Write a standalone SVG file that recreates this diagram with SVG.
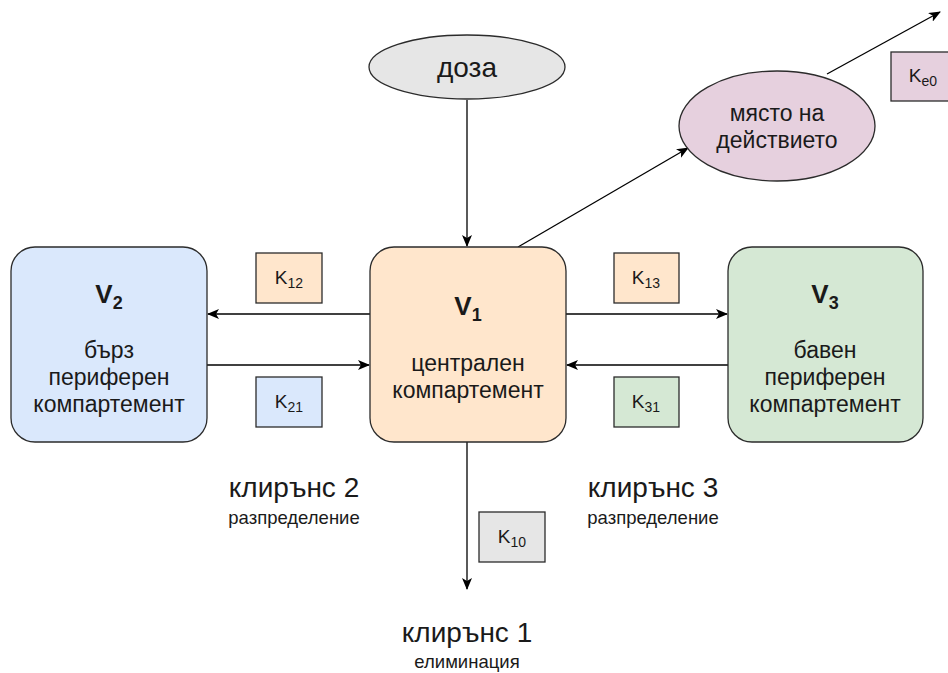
<svg xmlns="http://www.w3.org/2000/svg" width="948" height="673" viewBox="0 0 948 673">
<style>
text{font-family:"Liberation Sans",Arial,sans-serif;fill:#1a1a1a;text-anchor:middle}
.box{stroke:#2b2b2b;stroke-width:1.3}
.blue{fill:#dae8fc}.orange{fill:#ffe6cc}.green{fill:#d5e8d4}.grey{fill:#e6e6e6}.purple{fill:#e6d0de}
.title{font-size:26px;font-weight:bold}
.node{font-size:23px}
.k{font-size:19px}
.big{font-size:28px}
.small{font-size:18.5px}
.edge{stroke:#000;stroke-width:1.3;fill:none;marker-end:url(#arr)}
</style>
<defs>
<marker id="arr" markerWidth="12" markerHeight="10" refX="11" refY="5" orient="auto" markerUnits="userSpaceOnUse">
<path d="M0,0 L12,5 L0,10 L3,5 z" fill="#000"/>
</marker>
</defs>
<rect width="948" height="673" fill="#fff"/>
<g id="connectors">
<line class="edge" x1="467" y1="100" x2="467" y2="246"/>
<line class="edge" x1="518" y1="247" x2="688" y2="148"/>
<line class="edge" x1="827" y1="74" x2="940" y2="12"/>
<line class="edge" x1="370" y1="314" x2="208" y2="314"/>
<line class="edge" x1="207" y1="365" x2="369" y2="365"/>
<line class="edge" x1="566" y1="314" x2="727" y2="314"/>
<line class="edge" x1="728" y1="365" x2="567" y2="365"/>
<line class="edge" x1="467" y1="442" x2="467" y2="589"/>
</g>
<g id="doza">
<ellipse class="box grey" cx="467" cy="67" rx="98" ry="32"/>
<text x="467" y="77" style="font-size:28px">доза</text>
</g>
<g id="site">
<ellipse class="box purple" cx="777" cy="126" rx="98" ry="55"/>
<text class="node" x="777" y="121">място на</text>
<text class="node" x="777" y="148">действието</text>
</g>
<g id="v2">
<rect class="box blue" x="11" y="247" width="196" height="195" rx="24"/>
<text class="title" x="109" y="303">V<tspan font-size="18" dy="6">2</tspan></text>
<text class="node" x="109" y="358">бърз</text>
<text class="node" x="109" y="385">периферен</text>
<text class="node" x="109" y="412">компартемент</text>
</g>
<g id="v1">
<rect class="box orange" x="370" y="247" width="196" height="195" rx="24"/>
<text class="title" x="468" y="315">V<tspan font-size="18" dy="6">1</tspan></text>
<text class="node" x="468" y="371">централен</text>
<text class="node" x="468" y="398">компартемент</text>
</g>
<g id="v3">
<rect class="box green" x="728" y="247" width="195" height="195" rx="24"/>
<text class="title" x="825" y="303">V<tspan font-size="18" dy="6">3</tspan></text>
<text class="node" x="825" y="358">бавен</text>
<text class="node" x="825" y="385">периферен</text>
<text class="node" x="825" y="412">компартемент</text>
</g>
<g id="k12">
<rect class="box orange" x="256" y="253" width="66" height="50"/>
<text class="k" x="289" y="284">K<tspan font-size="14" dy="4">12</tspan></text>
</g>
<g id="k21">
<rect class="box blue" x="256" y="377" width="66" height="50"/>
<text class="k" x="289" y="408">K<tspan font-size="14" dy="4">21</tspan></text>
</g>
<g id="k13">
<rect class="box orange" x="614" y="253" width="65" height="50"/>
<text class="k" x="646" y="284">K<tspan font-size="14" dy="4">13</tspan></text>
</g>
<g id="k31">
<rect class="box green" x="614" y="377" width="65" height="50"/>
<text class="k" x="646" y="408">K<tspan font-size="14" dy="4">31</tspan></text>
</g>
<g id="k10">
<rect class="box grey" x="479" y="512" width="66" height="50"/>
<text class="k" x="512" y="543">K<tspan font-size="14" dy="4">10</tspan></text>
</g>
<g id="ke0">
<rect class="box purple" x="891" y="52" width="66" height="49"/>
<text class="k" x="923" y="82">K<tspan font-size="14" dy="4">e0</tspan></text>
</g>
<g id="cl2">
<text class="big" x="294" y="497">клирънс 2</text>
<text class="small" x="294" y="524">разпределение</text>
</g>
<g id="cl3">
<text class="big" x="653" y="497">клирънс 3</text>
<text class="small" x="653" y="524">разпределение</text>
</g>
<g id="cl1">
<text class="big" x="467" y="642">клирънс 1</text>
<text class="small" x="467" y="668">елиминация</text>
</g>
</svg>
